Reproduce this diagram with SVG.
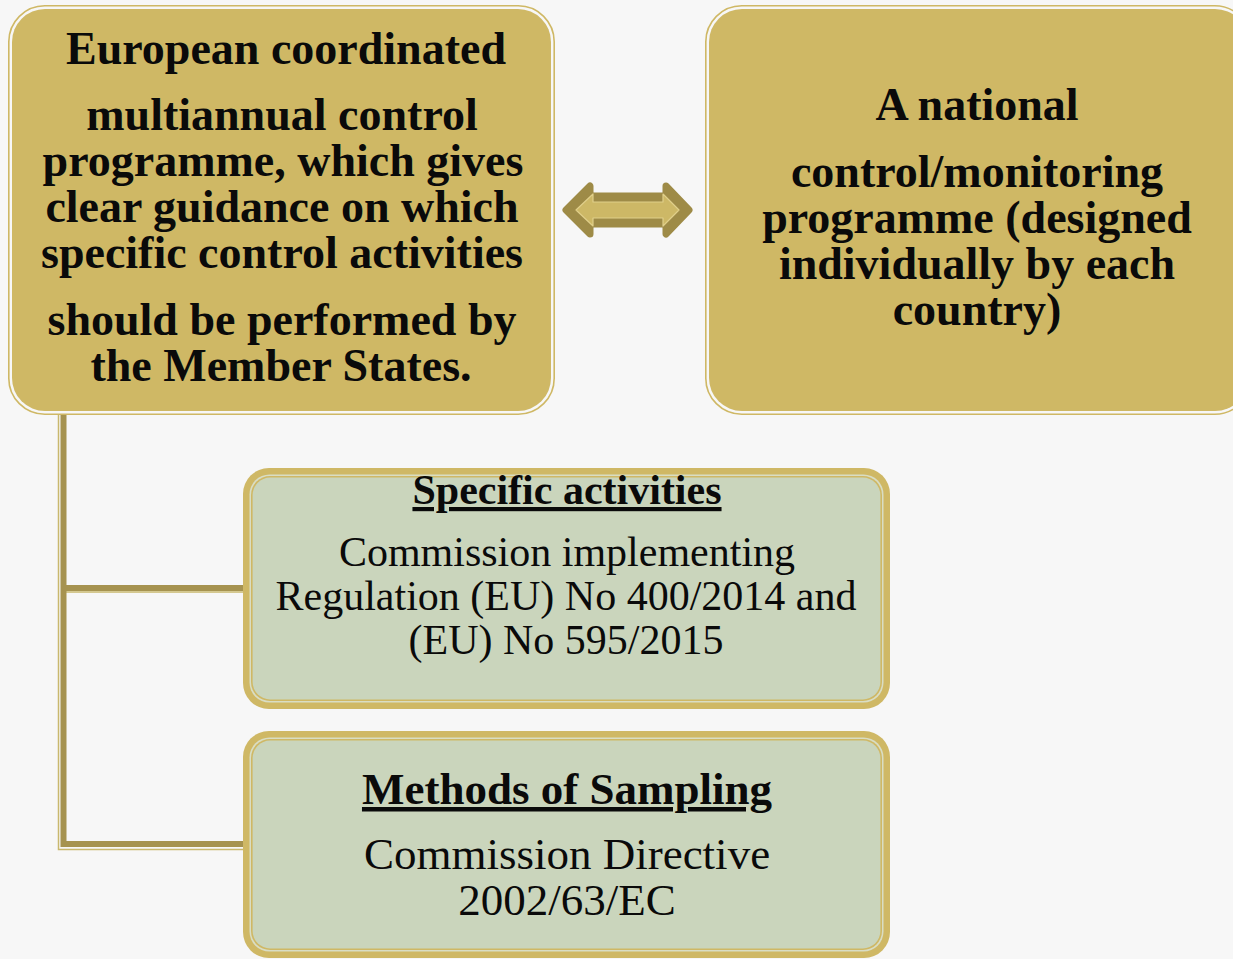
<svg xmlns="http://www.w3.org/2000/svg" width="1233" height="959" viewBox="0 0 1233 959">
<style>
.gold{fill:#CFB865}
.goldline{fill:none;stroke:#CFB865;stroke-width:1.6}
.green{fill:#CAD5BC}
.hi{fill:#D9DDC4}
.tb{font-family:"Liberation Serif","Times New Roman",serif;font-weight:bold;font-size:46px;fill:#0a0a0a;text-anchor:middle}
.gt{font-family:"Liberation Serif","Times New Roman",serif;fill:#0a0a0a;text-anchor:middle}
.conn{fill:none;stroke:#A69350;stroke-width:6}
.connhi{fill:none;stroke:#C9B86E;stroke-width:1.5}
</style>
<rect x="0" y="0" width="1233" height="959" fill="#F7F7F7"/>

<g id="connectors">
  <path class="connhi" d="M58.5 415 V849.5 H245"/>
  <path class="connhi" d="M66 592 H245"/>
  <path class="conn" d="M63.5 415 V844 H245 M63.5 588 H245"/>
</g>

<g id="node-european">
  <rect x="8.8" y="5.8" width="545.4" height="408.4" rx="36" class="goldline"/>
  <rect x="12" y="9" width="539" height="402" rx="33" class="gold"/>
  <text class="tb" x="286" y="64">European coordinated</text>
  <text class="tb" x="282" y="130">multiannual control</text>
  <text class="tb" x="283" y="176">programme, which gives</text>
  <text class="tb" x="282" y="222">clear guidance on which</text>
  <text class="tb" x="282" y="268">specific control activities</text>
  <text class="tb" x="282" y="335">should be performed by</text>
  <text class="tb" x="281" y="381">the Member States.</text>
</g>

<g id="node-national">
  <rect x="705.8" y="5.8" width="545" height="408.4" rx="36" class="goldline"/>
  <rect x="709" y="9" width="539" height="402" rx="33" class="gold"/>
  <text class="tb" x="977" y="120">A national</text>
  <text class="tb" x="977" y="187">control/monitoring</text>
  <text class="tb" x="977" y="233">programme (designed</text>
  <text class="tb" x="977" y="279">individually by each</text>
  <text class="tb" x="977" y="325">country)</text>
</g>

<g id="node-arrow">
  <polygon points="566,210 590,186 590,196 666,196 666,186 689,210 666,234 666,224 590,224 590,234" fill="#9E8B47" stroke="#9E8B47" stroke-width="7" stroke-linejoin="round"/>
  <polygon points="576,210 593,194 593,202 663,202 663,194 679,210 663,226 663,218 593,218 593,226" fill="#CDB866" stroke="#E0CF8A" stroke-width="1.2" stroke-linejoin="round"/>
</g>

<g id="node-specific">
  <rect x="243" y="468" width="647" height="241" rx="26" class="gold"/>
  <rect x="249.5" y="474.5" width="634" height="228" rx="20" class="hi"/>
  <rect x="251" y="476" width="631" height="225" rx="19" class="gold"/>
  <rect x="252.6" y="477.6" width="627.8" height="221.8" rx="17.5" class="green"/>
  <text class="gt" x="567" y="504" font-size="42" font-weight="bold" text-decoration="underline">Specific activities</text>
  <text class="gt" x="567" y="566" font-size="42">Commission implementing</text>
  <text class="gt" x="566" y="610" font-size="42">Regulation (EU) No 400/2014 and</text>
  <text class="gt" x="566" y="654" font-size="42">(EU) No 595/2015</text>
</g>

<g id="node-methods">
  <rect x="243" y="731" width="647" height="227" rx="26" class="gold"/>
  <rect x="249.5" y="737.5" width="634" height="214" rx="20" class="hi"/>
  <rect x="251" y="739" width="631" height="211" rx="19" class="gold"/>
  <rect x="252.6" y="740.6" width="627.8" height="207.8" rx="17.5" class="green"/>
  <text class="gt" x="567" y="804" font-size="45" font-weight="bold" text-decoration="underline">Methods of Sampling</text>
  <text class="gt" x="567" y="869" font-size="45">Commission Directive</text>
  <text class="gt" x="567" y="915" font-size="45">2002/63/EC</text>
</g>
</svg>
